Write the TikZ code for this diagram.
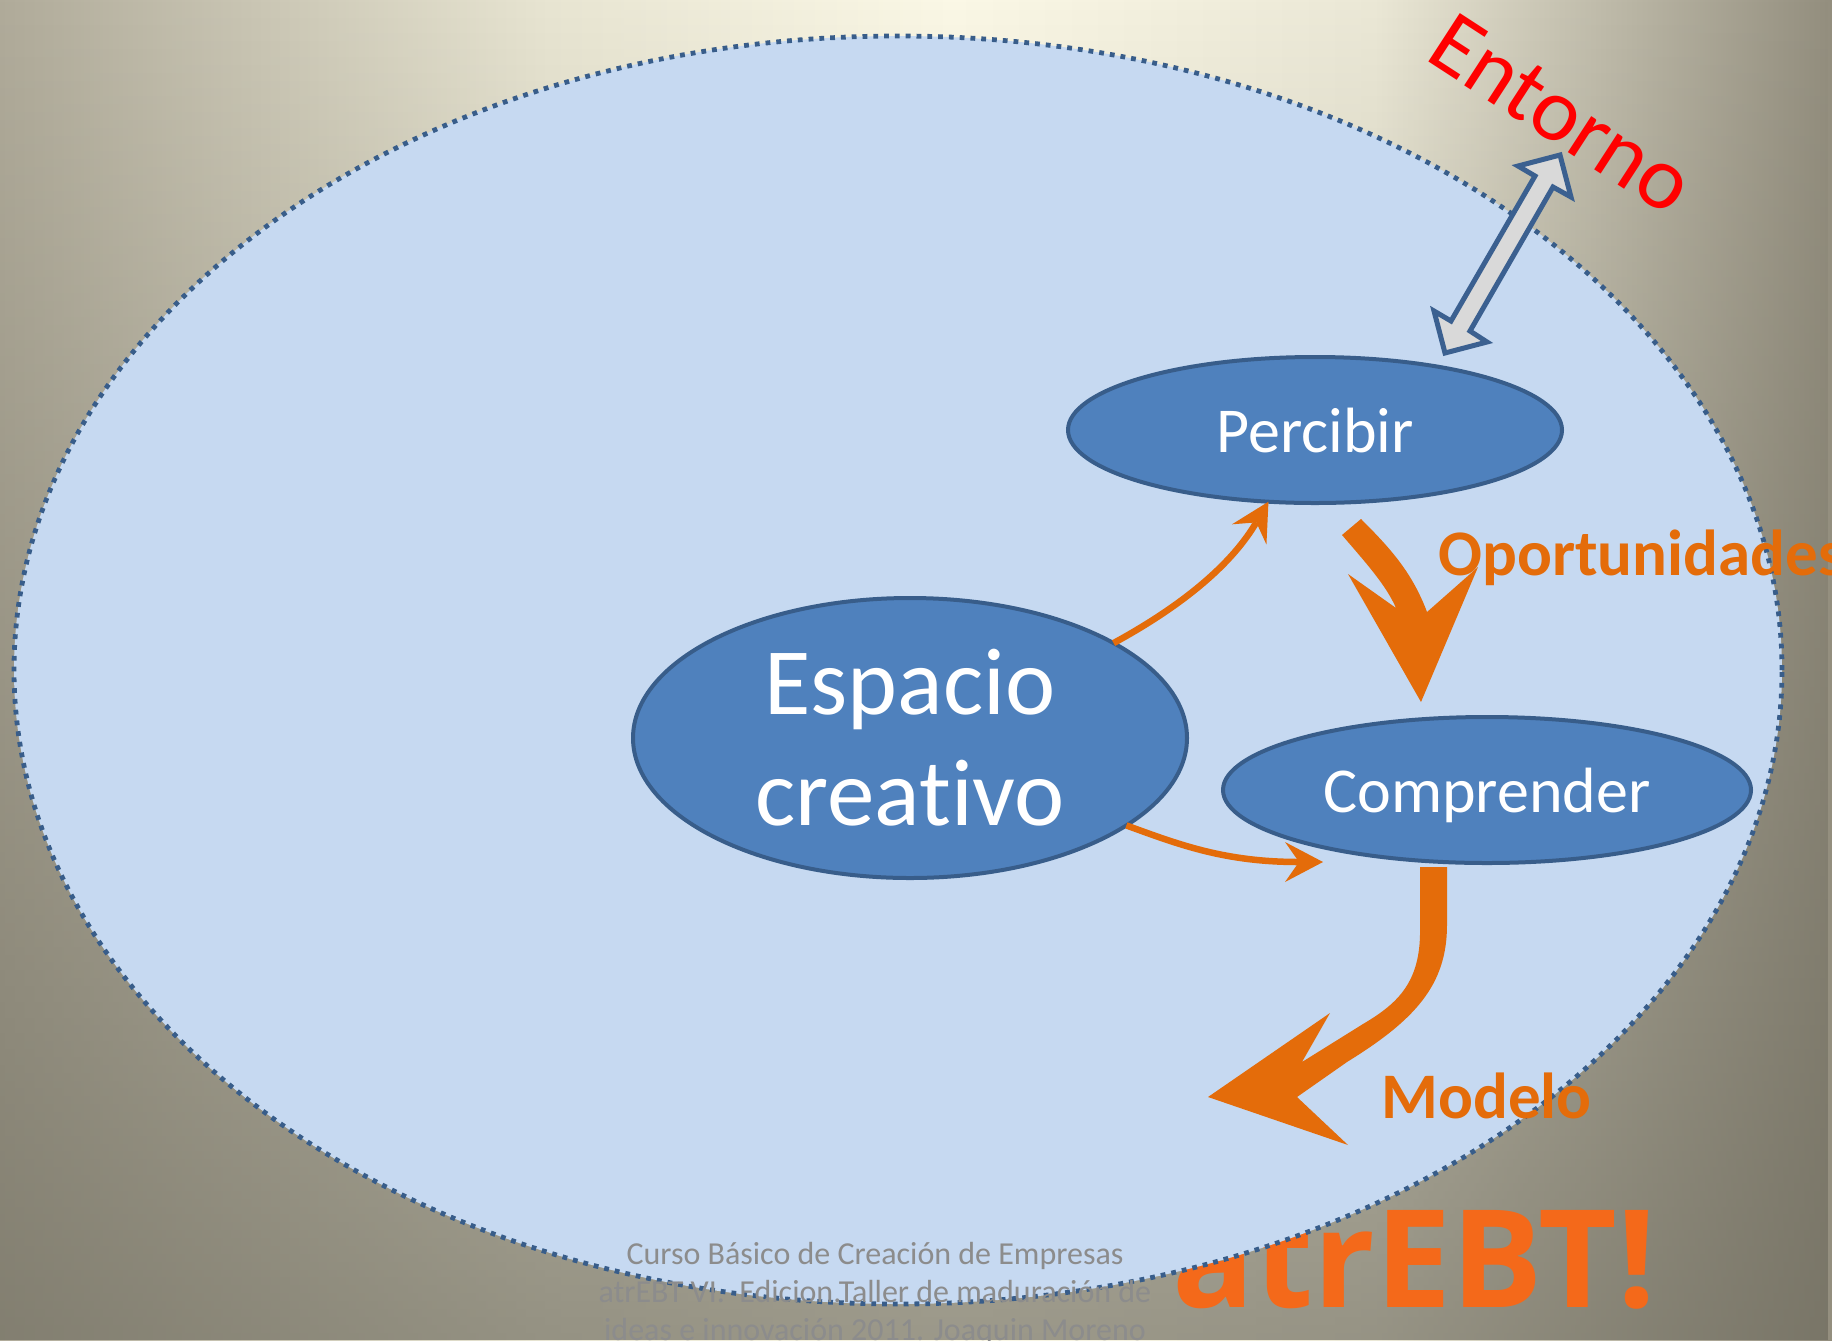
\documentclass[tikz,border=0pt]{standalone}
\usepackage{fontspec}
\setmainfont{Carlito}[Ligatures=NoCommon]
\newfontfamily\logofont{Open Sans}
\usetikzlibrary{arrows.meta,shapes.geometric,fadings}
\definecolor{bgA}{HTML}{B0AB9A}
\definecolor{bgB}{HTML}{E8E5D2}
\definecolor{bgC}{HTML}{FBF8E6}
\definecolor{bgD}{HTML}{EBE8D6}
\definecolor{bgE}{HTML}{938E7E}
\definecolor{bgdark}{HTML}{6C695C}
\definecolor{envfill}{HTML}{C6D9F1}
\definecolor{nodefill}{HTML}{4F81BD}
\definecolor{nodeborder}{HTML}{385D8A}
\definecolor{arroworange}{HTML}{E46C0A}
\definecolor{logoorange}{HTML}{F4691A}
\definecolor{dblfill}{HTML}{D9D9D9}
\definecolor{dblborder}{HTML}{3B6090}
\definecolor{footgray}{HTML}{8C8C8C}
\pgfdeclarehorizontalshading{bgh}{100bp}{color(0bp)=(bgA); color(25bp)=(bgA); color(40bp)=(bgB); color(51bp)=(bgC); color(62.5bp)=(bgD); color(75bp)=(bgE); color(100bp)=(bgE)}
\tikzfading[name=bgfade, top color=transparent!100, bottom color=transparent!33]
\tikzset{
  blob/.style={ellipse, draw=nodeborder, line width=2pt, fill=nodefill, text=white, inner sep=0pt, outer sep=0pt},
  thinarrow/.style={draw=arroworange, line width=3.25pt, -{Stealth[length=19pt,width=20pt,inset=7pt,line width=0pt]}},
  bigarrow/.style={fill=arroworange},
  orlabel/.style={text=arroworange, font=\bfseries\fontsize{32.5}{32.5}\selectfont, inner sep=0pt, anchor=base west},
  dblarrow/.style={fill=dblfill, draw=dblborder, line width=2.5pt, line join=miter},
}
\begin{document}
\begin{tikzpicture}[x=0.5pt,y=-0.5pt]
\useasboundingbox (0,0) rectangle (1832,1340);
\clip (0,0) rectangle (1832,1340);
% background
\shade[shading=bgh] (0,0) rectangle (1832,1340);
\fill[bgdark, path fading=bgfade] (0,0) rectangle (1832,1340);
% logo (partly hidden behind the environment)
\node[anchor=base west, inner sep=0pt, text=logoorange, font=\logofont\bfseries\fontsize{68}{68}\selectfont] (logo) at (1172,1307) {atrEBT!};
% environment
\path[fill=envfill, draw=nodeborder, line width=2.4pt, dash pattern=on 2.4pt off 3pt] (898,670) ellipse [x radius=442pt, y radius=317pt];
% footer
\node[anchor=north, align=center, inner sep=0pt, text=footgray, font=\fontsize{16}{19}\selectfont] (foot) at (875,1242)
  {Curso Básico de Creación de Empresas\\atrEBT VI.\ \ Edicion.Taller de maduración de\\ideas e innovación 2011. Joaquin Moreno};
% Entorno
\node[rotate=-33, anchor=base, inner sep=0pt, text=red, font=\fontsize{45}{45}\selectfont] (ent) at (1546,138) {Entorno};
% double arrow
\draw[dblarrow] (1445,353) -- (1487,342) -- (1470,331) -- (1553,187) -- (1571,197) -- (1560,155) -- (1518,166) -- (1535,176) -- (1451,321) -- (1434,311) -- cycle;
% nodes
\node[blob, minimum width=247pt, minimum height=73pt, font=\fontsize{32}{32}\selectfont] (perc) at (1315,430) {Percibir};
\node[blob, minimum width=277pt, minimum height=140pt, align=center, font=\fontsize{47.5}{55.5}\selectfont] (esp) at (910,738) {Espacio\\creativo};
\node[blob, minimum width=264pt, minimum height=73pt, text depth=0pt, font=\fontsize{32}{32}\selectfont] (comp) at (1487,790) {Comprender};
% thin arrows
\coordinate (t2) at (1323,862);
\draw[thinarrow] (esp.25) .. controls (1187,603) and (1233,562) .. (perc.-123);
\draw[thinarrow] (esp.-22) .. controls (1180,845) and (1225,862) .. (t2);
% thick arrows
\fill[bigarrow] (1342,535) .. controls (1366,563) and (1386,585) .. (1396,608) -- (1348,574) -- (1421,702) -- (1478,567) -- (1427,612) .. controls (1412,572) and (1390,548) .. (1361,519) -- cycle;
\fill[bigarrow] (1420,867) -- (1420,935) .. controls (1419,985) and (1395,1005) .. (1363,1024) -- (1302,1062) -- (1330,1013) -- (1208,1097) -- (1348,1145) -- (1297,1097) -- (1347,1062) .. controls (1415,1020) and (1447,985) .. (1447,925) -- (1447,867) -- cycle;
% labels
\node[orlabel] (oport) at (1438,575) {Oportunidades};
\node[orlabel] (modelo) at (1381,1118) {Modelo};
\end{tikzpicture}
\end{document}
